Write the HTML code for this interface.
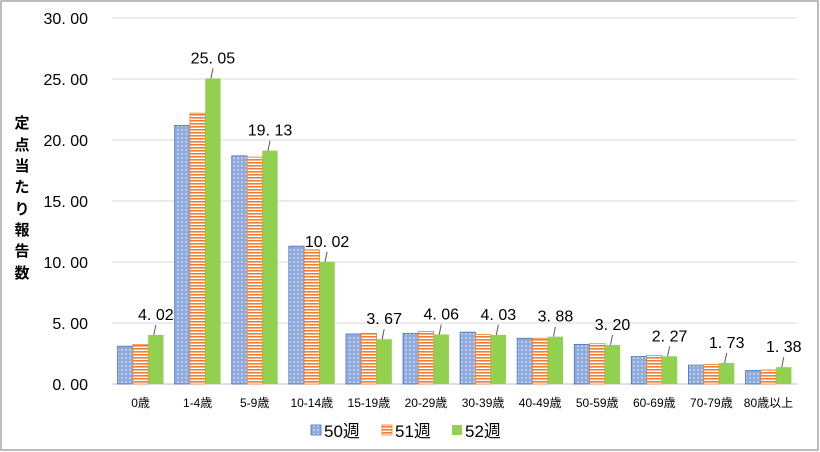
<!DOCTYPE html>
<html><head><meta charset="utf-8"><style>
body{margin:0;background:#fff;}
svg{display:block;font-family:"Liberation Sans","Noto Sans CJK JP",sans-serif;}
</style></head><body>
<svg id="chart" width="820" height="452">
<rect x="1" y="1" width="817" height="449" fill="#fff" stroke="#a6a6a6" stroke-width="1.5"/>
<defs>
<pattern id="pBlue" width="4" height="4" patternUnits="userSpaceOnUse"><rect width="4" height="4" fill="#8faadc"/><circle cx="2" cy="2" r="0.9" fill="#dbe4f5"/></pattern>
<pattern id="pOrange" width="4" height="3" patternUnits="userSpaceOnUse"><rect width="4" height="3" fill="#fff"/><rect width="4" height="1.6" fill="#ed7d31"/></pattern>
</defs>
<g id="grid"></g><g id="bars"></g><g id="labels"></g>
<text transform="translate(22,200)" font-size="15" font-weight="bold" fill="#000" text-anchor="middle"><tspan x="0" y="-72">定</tspan><tspan x="0" y="-50">点</tspan><tspan x="0" y="-29">当</tspan><tspan x="0" y="-8">た</tspan><tspan x="0" y="14">り</tspan><tspan x="0" y="35">報</tspan><tspan x="0" y="56">告</tspan><tspan x="0" y="78">数</tspan></text>
<g>
<g><rect x="311" y="425" width="10" height="10" fill="url(#pBlue)" stroke="#4472c4" stroke-width="0.8"/><text x="324" y="437" font-size="17">50週</text></g>
<g><rect x="382" y="425" width="10" height="10" fill="url(#pOrange)" stroke="#ed7d31" stroke-width="0.8"/><text x="395" y="437" font-size="17">51週</text></g>
<g><rect x="452" y="425" width="10" height="10" fill="#92d050"/><text x="465" y="437" font-size="17">52週</text></g>
</g>
</svg>
<script>
const categories=["0歳","1-4歳","5-9歳","10-14歳","15-19歳","20-29歳","30-39歳","40-49歳","50-59歳","60-69歳","70-79歳","80歳以上"];
const week50=[3.1,21.2,18.7,11.3,4.1,4.15,4.25,3.75,3.25,2.25,1.55,1.1];
const week51=[3.25,22.2,18.6,11.0,4.15,4.3,4.05,3.75,3.3,2.35,1.6,1.15];
const week52=[4.02,25.05,19.13,10.02,3.67,4.06,4.03,3.88,3.20,2.27,1.73,1.38];
const yTicks=[0,5,10,15,20,25,30];
const NS="http://www.w3.org/2000/svg";
const L=112,R=797,T=18,B=384,YMAX=30;
const y=v=>B-(v/YMAX)*(B-T);
const band=(R-L)/categories.length;
const xc=i=>L+band*(i+0.5);
function mk(tag,attrs,parent){const e=document.createElementNS(NS,tag);for(const k in attrs)e.setAttribute(k,attrs[k]);parent.appendChild(e);return e;}
const grid=document.getElementById('grid'),bars=document.getElementById('bars'),labels=document.getElementById('labels');
yTicks.forEach(t=>{
 const ln=mk('line',{x1:L,x2:R,y1:y(t),y2:y(t),stroke:t===0?'#bfbfbf':'#d9d9d9','stroke-width':1},grid);
 
 
 const tx=mk('text',{x:88,y:y(t)+6,'font-size':16,'text-anchor':'end',fill:'#000'},grid);
 tx.textContent=t.toFixed(2).replace('.','. ');
 
 
});
const bw=15.3;
const series=[[week50,'url(#pBlue)','#4472c4','50'],[week51,'url(#pOrange)','#ed7d31','51'],[week52,'#92d050','none','52']];
categories.forEach((c,i)=>{
 series.forEach((s,j)=>{
  const v=s[0][i];const x0=xc(i)-1.5*bw+j*bw;
  const r=mk('rect',{x:x0,y:y(v),width:bw,height:B-y(v),fill:s[1],stroke:s[2],'stroke-width':0.8},bars);
  
  
 });
 const cx=xc(i)+bw, top=y(week52[i]);
 mk('line',{x1:cx-2,y1:top,x2:cx,y2:top-10,stroke:'#595959','stroke-width':1},labels);
 const vt=mk('text',{x:cx,y:top-15,'font-size':16,'text-anchor':'middle',fill:'#000'},labels);
 vt.textContent=week52[i].toFixed(2).replace('.','. ');
 
 
 const ct=mk('text',{x:xc(i),y:407,'font-size':12,'text-anchor':'middle',fill:'#000'},labels);
 ct.textContent=c;
 
 
});
</script>
</body></html>
